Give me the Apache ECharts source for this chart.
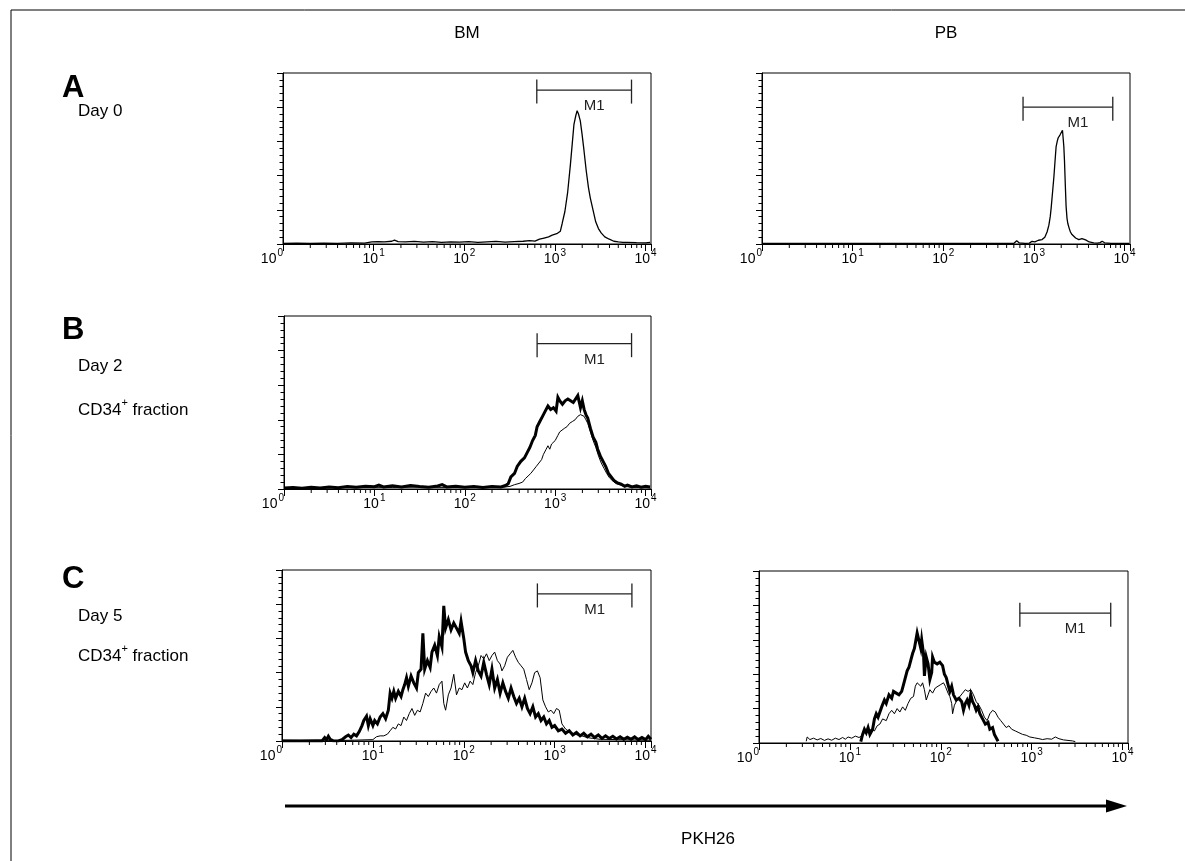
<!DOCTYPE html>
<html><head><meta charset="utf-8">
<script src="https://cdn.jsdelivr.net/npm/echarts@6/dist/echarts.min.js"></script>
<style>html,body{margin:0;padding:0;background:#fff}#c{width:1185px;height:861px}</style>
</head><body><div id="c"></div>
<script>
// x values are log10(PKH26 fluorescence); y values are relative cell counts (box top = 100)
const decadeTicks = [0, 1, 2, 3, 4];
const minorMultipliers = [2, 3, 4, 5, 6, 7, 8, 9];
const columnHeaders = ['BM', 'PB'];
const axisTitle = 'PKH26';
const markerLabel = 'M1';

const aBM = [[0,0.4],[0.15,0.5],[0.3,0.3],[0.45,0.5],[0.6,0.4],[0.75,0.6],[0.9,0.5],[0.98,1.2],[1.05,1.4],[1.12,1.3],[1.2,1.6],[1.23,2.3],[1.27,1.4],[1.35,1.2],[1.45,1.5],[1.55,1.1],[1.65,1.4],[1.75,1.0],[1.85,1.3],[1.95,1.1],[2.05,1.4],[2.15,0.9],[2.25,1.2],[2.35,1.5],[2.45,1.1],[2.55,1.4],[2.65,1.6],[2.72,2.0],[2.78,1.7],[2.83,2.8],[2.88,3.5],[2.93,4.2],[2.97,5.2],[3.02,6.0],[3.06,7.5],[3.08,12],[3.11,19],[3.14,30],[3.17,46],[3.19,58],[3.21,70],[3.23,75],[3.245,78],[3.26,76],[3.28,72],[3.30,64],[3.32,55],[3.345,43],[3.37,33],[3.39,27],[3.42,20],[3.45,13],[3.48,9],[3.51,6.5],[3.55,4.2],[3.6,2.8],[3.65,1.6],[3.7,1.2],[3.75,0.9],[3.8,1.0],[3.9,0.8],[4.0,0.7],[4.05,0.9]];
const aPB = [[0,0.3],[0.3,0.4],[0.6,0.3],[0.9,0.4],[1.2,0.3],[1.5,0.4],[1.8,0.3],[2.1,0.4],[2.4,0.3],[2.7,0.4],[2.78,0.4],[2.81,1.9],[2.84,0.6],[2.9,0.4],[2.95,0.5],[2.98,1.6],[3.01,1.2],[3.05,2.2],[3.09,2.6],[3.12,4],[3.145,7],[3.165,11],[3.18,16],[3.19,21],[3.205,30],[3.22,39],[3.235,50],[3.245,57],[3.257,60],[3.267,62],[3.28,61],[3.29,64],[3.304,65],[3.315,66.5],[3.322,66],[3.33,57],[3.337,49],[3.346,35],[3.355,22],[3.365,15],[3.374,12],[3.39,9],[3.403,7],[3.42,5.5],[3.44,5],[3.46,3.5],[3.477,3.6],[3.495,2.6],[3.513,2.5],[3.53,3.2],[3.55,3],[3.57,2.4],[3.587,2],[3.61,1.2],[3.624,0.9],[3.66,0.6],[3.7,0.5],[3.73,0.8],[3.753,1.6],[3.78,0.7],[3.85,0.4],[3.95,0.3],[4.05,0.4]];
const bBMbold = [[0,0.6],[0.1,0.8],[0.2,0.5],[0.3,1.0],[0.4,0.6],[0.5,1.2],[0.6,0.7],[0.7,1.4],[0.8,1.0],[0.9,1.6],[1.0,1.3],[1.05,2.2],[1.1,1.2],[1.2,1.8],[1.3,1.1],[1.4,2.0],[1.5,1.4],[1.6,1.0],[1.7,1.7],[1.75,2.5],[1.8,1.2],[1.9,1.6],[2.0,1.0],[2.1,1.5],[2.2,0.9],[2.3,1.4],[2.4,1.2],[2.45,2],[2.48,3],[2.51,7],[2.55,9],[2.58,13],[2.62,16],[2.66,18],[2.69,21],[2.72,24],[2.75,28],[2.78,31],[2.8,36],[2.83,39],[2.86,42],[2.89,45],[2.92,48],[2.95,46],[2.98,47],[3.01,45],[3.03,53],[3.05,51],[3.08,49],[3.11,51],[3.14,52],[3.17,51],[3.2,50],[3.22,49],[3.25,54],[3.27,55],[3.28,47],[3.3,51],[3.32,46],[3.34,43],[3.36,41],[3.39,35],[3.42,30],[3.45,27],[3.47,23],[3.5,19],[3.53,16],[3.56,13],[3.59,9],[3.62,7],[3.65,5],[3.69,3.5],[3.73,2.8],[3.77,1.6],[3.8,2.2],[3.85,1.2],[3.9,1.8],[3.95,1.0],[4.0,1.6],[4.05,1.2]];
const bBMfine = [[0,0.5],[0.3,0.6],[0.6,0.8],[0.9,1.0],[1.2,0.9],[1.5,1.1],[1.8,0.9],[2.1,1.0],[2.3,1.0],[2.45,1.2],[2.5,1.5],[2.55,2.5],[2.6,3.2],[2.64,4],[2.67,6],[2.7,7.5],[2.73,9],[2.76,11],[2.79,13],[2.82,15],[2.85,17],[2.87,20],[2.9,23],[2.92,25],[2.94,23],[2.96,26],[2.98,25],[3.0,28],[3.03,31],[3.05,33],[3.07,34],[3.1,35],[3.13,36],[3.16,38],[3.19,39],[3.22,40],[3.25,42],[3.28,43],[3.3,43.5],[3.32,42],[3.34,40],[3.36,38],[3.39,33],[3.42,28],[3.45,24],[3.48,19],[3.51,15],[3.54,12],[3.57,9],[3.6,6.5],[3.63,5],[3.67,3.2],[3.72,2.3],[3.77,1.5],[3.85,1.0],[3.95,0.8],[4.05,0.7]];
const cBMbold = [[0,0],[0.44,0],[0.47,2],[0.49,0.8],[0.51,2.8],[0.53,1],[0.56,0.2],[0.62,0],[0.66,0.8],[0.7,2.5],[0.73,3.5],[0.76,2],[0.79,4],[0.82,3],[0.85,5.5],[0.88,9],[0.9,12],[0.93,14.5],[0.95,9],[0.97,13],[1.0,9],[1.02,12],[1.05,10],[1.08,14],[1.11,16],[1.14,13],[1.17,18],[1.19,28],[1.21,25],[1.23,29],[1.25,25],[1.28,29],[1.31,26],[1.33,30],[1.35,33],[1.37,37],[1.39,32],[1.42,38],[1.45,34],[1.48,31],[1.5,40],[1.53,42],[1.55,63],[1.57,42],[1.6,47],[1.63,43],[1.65,52],[1.68,56],[1.71,50],[1.73,61],[1.76,55],[1.78,79],[1.8,66],[1.83,71],[1.86,65],[1.89,69],[1.92,66],[1.95,63],[1.97,70],[2.0,60],[2.02,52],[2.05,47],[2.08,44],[2.1,40],[2.13,47],[2.16,41],[2.19,38],[2.22,46],[2.25,39],[2.28,33],[2.31,42],[2.34,31],[2.37,36],[2.4,28],[2.43,34],[2.46,29],[2.49,25],[2.52,31],[2.55,26],[2.58,22],[2.61,25],[2.64,20],[2.67,25],[2.7,19],[2.73,16],[2.76,20],[2.79,14],[2.82,16],[2.85,12],[2.88,14],[2.91,10],[2.94,12],[2.97,8],[3.0,9],[3.04,6],[3.08,7],[3.12,4.5],[3.16,6],[3.2,3.5],[3.24,5],[3.28,3],[3.32,4.5],[3.36,2.5],[3.4,4],[3.44,2],[3.48,3.5],[3.52,1.5],[3.56,3],[3.6,1.5],[3.64,2.8],[3.68,1.2],[3.72,2.5],[3.76,1],[3.8,2.2],[3.84,1],[3.88,2.4],[3.92,0.8],[3.96,2],[4.0,0.8],[4.03,2.8],[4.06,1]];
const cBMfine = [[0,0.5],[0.2,0.4],[0.4,0.6],[0.6,0.3],[0.8,0.5],[1.0,0.8],[1.04,2.5],[1.08,3],[1.12,3],[1.16,4],[1.19,6],[1.22,8],[1.25,7],[1.28,10],[1.31,9],[1.34,14],[1.37,12],[1.4,16],[1.43,19],[1.46,15],[1.49,18],[1.52,17],[1.55,22],[1.58,28],[1.61,26],[1.64,29],[1.67,31],[1.7,28],[1.73,33],[1.76,35],[1.78,22],[1.8,18],[1.83,27],[1.86,31],[1.89,39],[1.92,27],[1.95,31],[1.98,30],[2.01,34],[2.04,31],[2.07,35],[2.1,33],[2.13,40],[2.16,44],[2.19,50],[2.22,48],[2.25,51],[2.28,47],[2.31,50],[2.34,52],[2.37,47],[2.4,45],[2.42,41],[2.45,44],[2.48,49],[2.51,51],[2.54,53],[2.57,49],[2.6,46],[2.63,44],[2.66,42],[2.69,36],[2.72,30],[2.75,34],[2.78,40],[2.81,41],[2.84,37],[2.87,24],[2.9,20],[2.93,17],[2.96,18],[2.99,16],[3.02,19],[3.05,18],[3.08,10],[3.12,7],[3.16,5.5],[3.2,4.5],[3.25,3.5],[3.3,3],[3.36,2],[3.42,1.5],[3.5,1],[3.7,0.8],[3.9,0.6],[4.06,0.5]];
const cPBbold = [[1.12,0.8],[1.14,5],[1.16,8],[1.18,6],[1.2,9],[1.22,5],[1.25,8],[1.27,14],[1.29,17],[1.31,15],[1.33,16],[1.35,21],[1.38,25],[1.4,23],[1.43,28],[1.46,26],[1.48,30],[1.51,29],[1.54,28],[1.57,30],[1.59,34],[1.61,33],[1.63,42],[1.65,44],[1.67,48],[1.69,52],[1.71,55],[1.73,54],[1.74,64],[1.76,63],[1.78,55],[1.79,60],[1.81,52],[1.82,39],[1.84,50],[1.86,46],[1.88,37],[1.9,41],[1.91,50],[1.93,47],[1.96,46],[1.99,47],[2.02,45],[2.04,40],[2.06,38],[2.08,34],[2.1,30],[2.12,33],[2.14,28],[2.17,25],[2.2,26],[2.23,24],[2.25,19],[2.27,23],[2.29,25],[2.31,22],[2.33,28],[2.35,24],[2.37,22],[2.39,19],[2.41,21],[2.43,17],[2.46,14],[2.49,11],[2.52,12],[2.54,8],[2.57,9],[2.59,5],[2.61,6],[2.63,1]];
const cPBfine = [[0.52,1],[0.53,3.5],[0.56,2],[0.6,2.8],[0.64,1.8],[0.68,2.6],[0.72,1.5],[0.76,2.4],[0.8,1.6],[0.84,2.8],[0.88,2],[0.92,3.2],[0.95,2.2],[0.98,3.5],[1.02,2.8],[1.06,4],[1.1,3.2],[1.13,4],[1.16,6],[1.2,7],[1.24,8],[1.27,7],[1.3,10],[1.33,11],[1.36,14],[1.4,13],[1.43,17],[1.46,19],[1.49,17],[1.52,20],[1.55,18],[1.58,21],[1.61,19],[1.64,23],[1.67,26],[1.7,27],[1.72,33],[1.74,35],[1.76,36],[1.78,33],[1.8,35],[1.82,31],[1.84,25],[1.86,28],[1.88,31],[1.91,29],[1.94,32],[1.97,33],[2.0,34],[2.03,35],[2.05,33],[2.08,29],[2.1,27],[2.12,23],[2.13,17],[2.15,22],[2.18,25],[2.21,27],[2.24,29],[2.27,31],[2.3,30],[2.33,31],[2.36,28],[2.39,24],[2.42,22],[2.45,19],[2.48,15],[2.51,13],[2.54,17],[2.57,19],[2.6,18],[2.63,15],[2.66,13],[2.69,11],[2.72,9],[2.75,10],[2.78,8],[2.82,7],[2.86,6],[2.9,5],[2.94,4.5],[2.98,3.5],[3.03,3],[3.08,2.5],[3.12,2],[3.17,2.5],[3.22,2.2],[3.26,3.5],[3.3,2.5],[3.35,1.8],[3.4,1.5],[3.45,1.2],[3.48,0.8]];

// M1 gate markers: [start decade, end decade, height]
const m1A_BM = [2.80, 3.845, 90];
const m1A_PB = [2.88, 3.87, 80];
const m1B_BM = [2.80, 3.845, 84];
const m1C_BM = [2.81, 3.85, 86];
const m1C_PB = [2.87, 3.87, 75.5];

const FONT = '"Liberation Sans", Arial, Helvetica, sans-serif';
const minorTicks = [];
decadeTicks.slice(0, -1).forEach(d => minorMultipliers.forEach(k => minorTicks.push(Math.log10(k * Math.pow(10, d)))));

const panels = [
  {box: {left: 283, top: 73, width: 368, height: 171}, fine: aBM, bold: null, m1: m1A_BM},
  {box: {left: 762, top: 73, width: 368, height: 171}, fine: aPB, bold: null, m1: m1A_PB},
  {box: {left: 284, top: 316, width: 367, height: 173}, fine: bBMfine, bold: bBMbold, m1: m1B_BM},
  {box: {left: 282, top: 570, width: 369, height: 171}, fine: cBMfine, bold: cBMbold, m1: m1C_BM},
  {box: {left: 759, top: 571, width: 369, height: 172}, fine: cPBfine, bold: cPBbold, m1: m1C_PB}
];

const grid = [], xAxis = [], yAxis = [], series = [];
panels.forEach((p, i) => {
  grid.push(Object.assign({show: true, borderColor: '#000', borderWidth: 1, containLabel: false}, p.box));
  xAxis.push({
    type: 'value', gridIndex: i, min: 0, max: 4.06, interval: 1,
    axisLine: {show: true, lineStyle: {color: '#000', width: 1}},
    axisTick: {show: true, inside: false, length: 7, lineStyle: {color: '#000'}},
    splitLine: {show: false},
    axisLabel: {
      show: true, margin: 4, color: '#000', alignMinLabel: 'right',
      formatter: v => decadeTicks.indexOf(v) >= 0 ? '{b|10}{s|' + v + '}' : '',
      rich: {
        b: {fontFamily: FONT, fontSize: 14, color: '#000', lineHeight: 18, verticalAlign: 'bottom'},
        s: {fontFamily: FONT, fontSize: 10, color: '#000', lineHeight: 18, verticalAlign: 'top', padding: [0, 0, 0, 1]}
      }
    }
  });
  yAxis.push({
    type: 'value', gridIndex: i, min: 0, max: 100, interval: 20,
    axisLine: {show: true, lineStyle: {color: '#000', width: 1}},
    axisTick: {show: true, inside: false, length: 6, lineStyle: {color: '#000'}},
    minorTick: {show: true, splitNumber: 5, length: 3.5, lineStyle: {color: '#000'}},
    axisLabel: {show: false}, splitLine: {show: false}, minorSplitLine: {show: false}
  });
  // minor log ticks on x axis
  series.push({
    type: 'custom', xAxisIndex: i, yAxisIndex: i, silent: true, clip: false,
    data: minorTicks.map(v => [v]),
    renderItem: (params, api) => {
      const pt = api.coord([api.value(0), 0]);
      return {type: 'line', shape: {x1: pt[0], y1: pt[1], x2: pt[0], y2: pt[1] + 4}, style: {stroke: '#000', lineWidth: 1}};
    }
  });
  if (p.fine) series.push({
    type: 'line', xAxisIndex: i, yAxisIndex: i, data: p.fine, showSymbol: false, silent: true,
    lineStyle: {color: '#000', width: p.bold ? 1 : 1.3}, z: 3, animation: false
  });
  if (p.bold) series.push({
    type: 'line', xAxisIndex: i, yAxisIndex: i, data: p.bold, showSymbol: false, silent: true,
    lineStyle: {color: '#000', width: 3, join: 'miter'}, z: 4, animation: false
  });
  series.push({
    type: 'custom', xAxisIndex: i, yAxisIndex: i, silent: true, clip: false,
    data: [p.m1],
    renderItem: (params, api) => {
      const a = api.coord([api.value(0), api.value(2)]);
      const b = api.coord([api.value(1), api.value(2)]);
      const st = {stroke: '#222', lineWidth: 1.3};
      return {type: 'group', children: [
        {type: 'line', shape: {x1: a[0], y1: a[1], x2: b[0], y2: b[1]}, style: st},
        {type: 'line', shape: {x1: a[0], y1: a[1] - 10.5, x2: a[0], y2: a[1] + 13.5}, style: st},
        {type: 'line', shape: {x1: b[0], y1: b[1] - 10.5, x2: b[0], y2: b[1] + 13.5}, style: st},
        {type: 'text', style: {text: markerLabel, x: (a[0] + b[0]) / 2 + 10, y: a[1] + 16, align: 'center', verticalAlign: 'middle', font: '15px ' + FONT, fill: '#222'}}
      ]};
    }
  });
});

const txt = (x, y, text, size, weight, align) => ({
  type: 'text', x: x, y: y, silent: true,
  style: {text: text, font: (weight || 'normal') + ' ' + size + 'px ' + FONT, fill: '#000', textAlign: align || 'left', textVerticalAlign: 'middle'}
});
const richTxt = (x, y) => ({
  type: 'text', x: x, y: y, silent: true,
  style: {text: '{n|CD34}{s|+}{n| fraction}', textVerticalAlign: 'middle', fill: '#000',
    rich: {n: {fontFamily: FONT, fontSize: 17, lineHeight: 21, verticalAlign: 'bottom', fill: '#000'},
           s: {fontFamily: FONT, fontSize: 11, lineHeight: 21, verticalAlign: 'top', fill: '#000'}}}
});

const graphic = [
  {type: 'line', silent: true, shape: {x1: 11, y1: 10, x2: 1185, y2: 10}, style: {stroke: '#000', lineWidth: 1}},
  {type: 'line', silent: true, shape: {x1: 11, y1: 10, x2: 11, y2: 861}, style: {stroke: '#000', lineWidth: 1}},
  txt(467, 33, columnHeaders[0], 17, 'normal', 'center'),
  txt(946, 33, columnHeaders[1], 17, 'normal', 'center'),
  txt(62, 88, 'A', 31, 'bold'),
  txt(78, 111, 'Day 0', 17),
  txt(62, 330, 'B', 31, 'bold'),
  txt(78, 366, 'Day 2', 17),
  richTxt(78, 408),
  txt(62, 579, 'C', 31, 'bold'),
  txt(78, 616, 'Day 5', 17),
  richTxt(78, 654),
  {type: 'line', silent: true, shape: {x1: 285, y1: 806, x2: 1110, y2: 806}, style: {stroke: '#000', lineWidth: 3}},
  {type: 'polygon', silent: true, shape: {points: [[1106, 799.5], [1127, 806], [1106, 812.5]]}, style: {fill: '#000'}},
  txt(708, 839, axisTitle, 17, 'normal', 'center')
];

const chart = echarts.init(document.getElementById('c'), null, {renderer: 'canvas'});
chart.setOption({backgroundColor: '#fff', animation: false, grid, xAxis, yAxis, series, graphic});
</script></body></html>
